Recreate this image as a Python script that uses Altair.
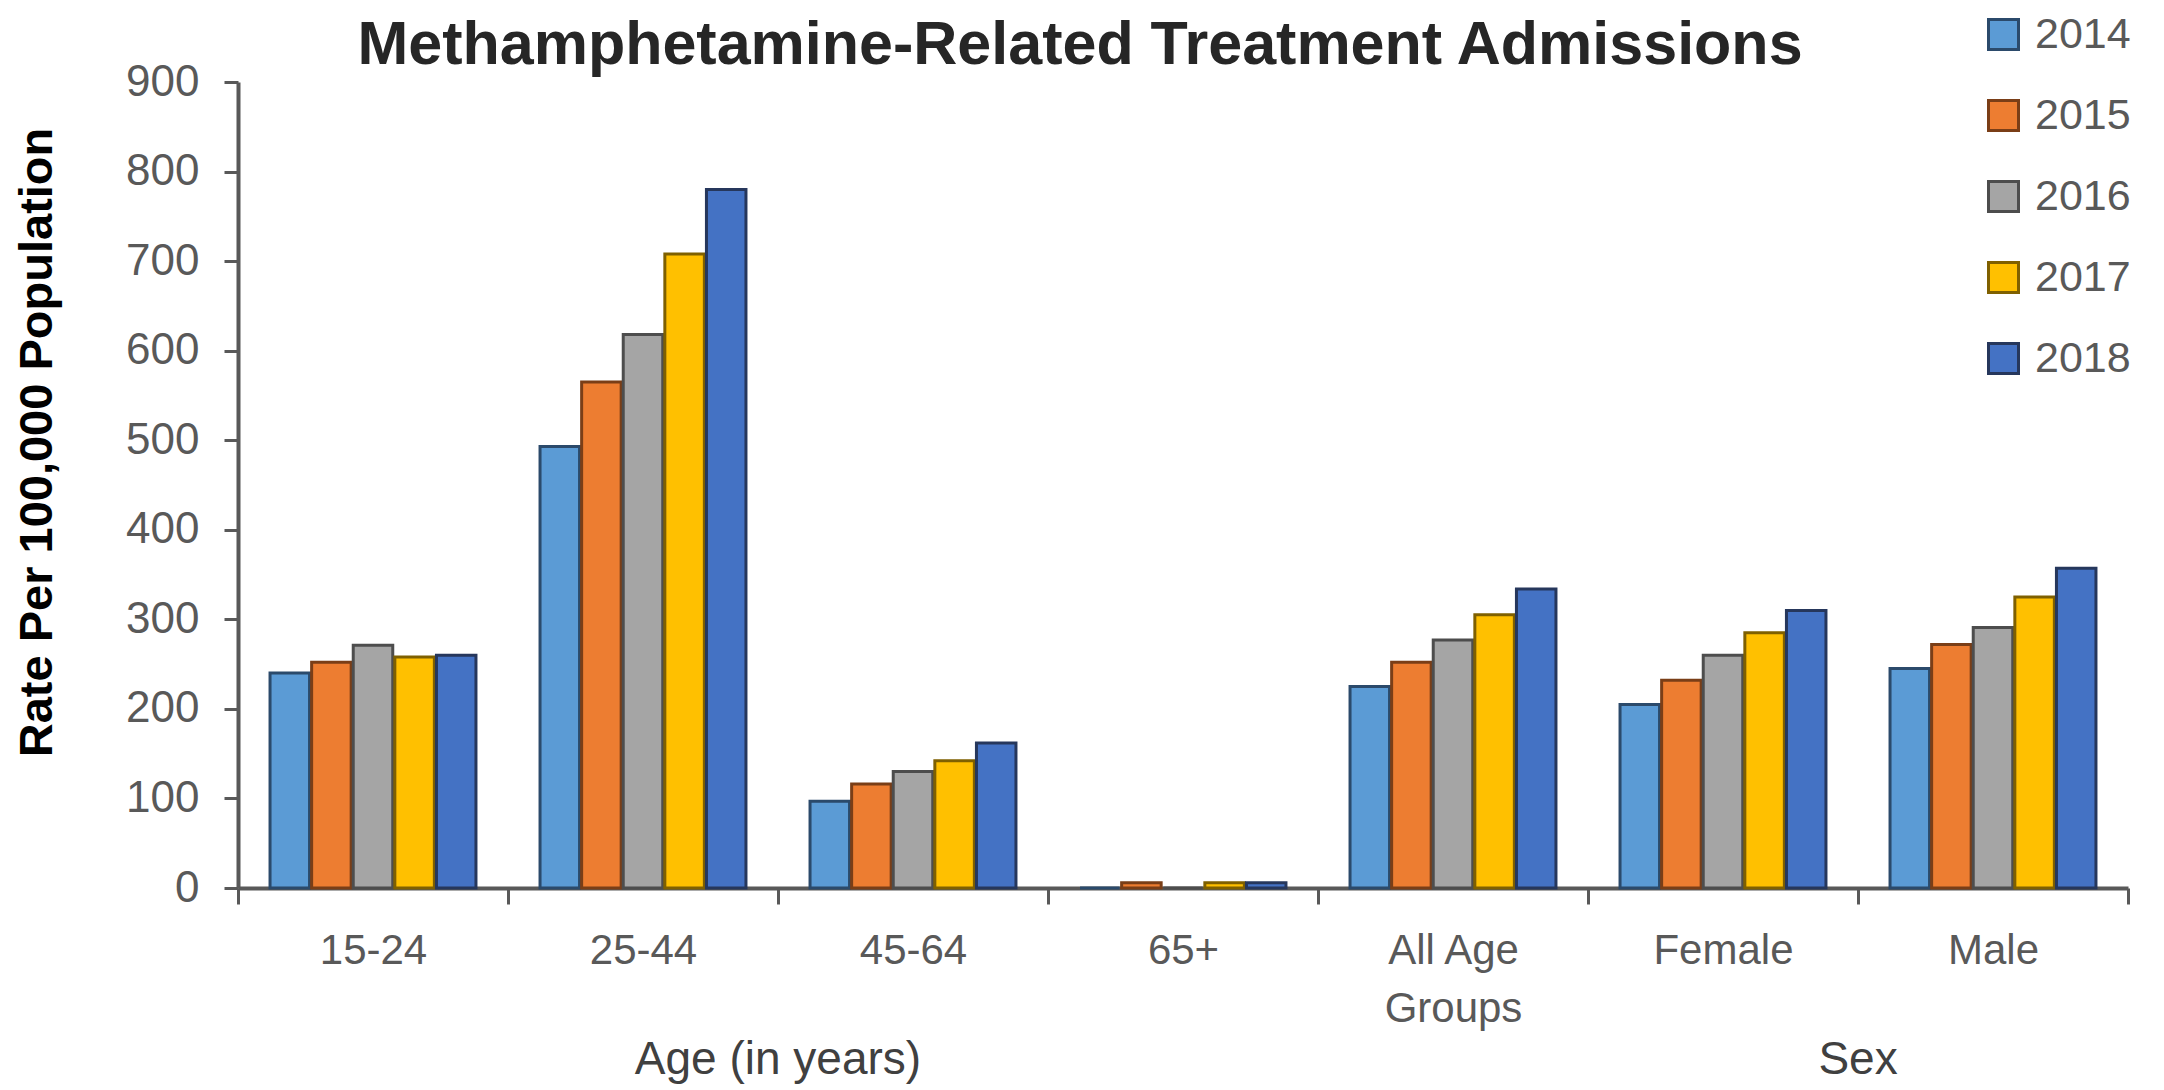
import altair as alt
import pandas as pd

chart_title = ["Methamphetamine-Related Treatment Admissions"]
categories = ["15-24", "25-44", "45-64", "65+", "All Age Groups", "Female", "Male"]
years = ["2014", "2015", "2016", "2017", "2018"]
rate_2014 = [240, 493, 97, 0, 225, 205, 245]
rate_2015 = [252, 565, 116, 6, 252, 232, 272]
rate_2016 = [271, 618, 130, 0, 277, 260, 291]
rate_2017 = [258, 708, 142, 6, 305, 285, 325]
rate_2018 = [260, 780, 162, 6, 334, 310, 357]
fill_colors = ["#5B9BD5", "#ED7D31", "#A5A5A5", "#FFC000", "#4472C4"]
edge_colors = ["#2B4A6B", "#7A3E17", "#4D4D4D", "#7F6000", "#26375C"]
group_labels = ["Age (in years)", "Sex"]
group_anchor = ["45-64", "Male"]
y_ticks = [0, 100, 200, 300, 400, 500, 600, 700, 800, 900]

series = [rate_2014, rate_2015, rate_2016, rate_2017, rate_2018]
rows = []
for yr, vals in zip(years, series):
    for cat, v in zip(categories, vals):
        rows.append({"category": cat, "year": yr, "rate": v})
df = pd.DataFrame(rows)
gdf = pd.DataFrame({"category": group_anchor, "label": group_labels})
tdf = pd.DataFrame({"text": chart_title})

FONT = "Liberation Sans"

legend = alt.Legend(
    title=None, orient="none", legendX=1744, legendY=-69,
    labelFontSize=43, labelColor="#595959", labelFont=FONT,
    symbolType="square", symbolSize=900, symbolStrokeWidth=3,
    rowPadding=37, labelOffset=10, padding=0,
)

x_axis = alt.Axis(
    title=None, labelAngle=0, tickBand="extent", tickSize=16,
    labelPadding=26, labelFontSize=42, labelColor="#595959", labelFont=FONT,
    labelLineHeight=58, domainColor="#595959", domainWidth=4,
    tickColor="#595959", tickWidth=3,
    labelExpr="datum.label == 'All Age Groups' ? ['All Age', 'Groups'] : datum.label",
)
x_scale = alt.Scale(paddingInner=0, paddingOuter=0)

bars = alt.Chart(df).mark_bar(strokeWidth=3).encode(
    x=alt.X("category:N", sort=categories, scale=x_scale, axis=x_axis),
    xOffset=alt.XOffset("year:N", sort=years,
                        scale=alt.Scale(paddingInner=0.05, paddingOuter=0.77)),
    y=alt.Y(
        "rate:Q", scale=alt.Scale(domain=[0, 900]),
        axis=alt.Axis(
            values=y_ticks, title="Rate Per 100,000  Population", grid=False,
            tickSize=14, labelPadding=25, labelFontSize=44, labelColor="#595959",
            labelFont=FONT, titleFont=FONT, titleFontSize=47, titleFontWeight="bold",
            titleColor="#000000", titlePadding=64, titleY=360,
            domainColor="#595959", domainWidth=4, tickColor="#595959", tickWidth=3,
        ),
    ),
    fill=alt.Fill("year:N", scale=alt.Scale(domain=years, range=fill_colors), legend=legend),
    stroke=alt.Stroke("year:N", scale=alt.Scale(domain=years, range=edge_colors), legend=legend),
)

groups = alt.Chart(gdf).mark_text(
    fontSize=46, color="#404040", font=FONT, baseline="middle", align="center"
).encode(
    x=alt.X("category:N", sort=categories, bandPosition=0, scale=x_scale, axis=x_axis),
    y=alt.value(978),
    text="label:N",
)

title = alt.Chart(tdf).mark_text(
    fontSize=61, color="#262626", font=FONT, fontWeight="bold",
    baseline="alphabetic", align="center",
).encode(
    x=alt.value(842),
    y=alt.value(-18),
    text="text:N",
)

chart = alt.layer(bars, groups, title).properties(
    width=1890, height=806,
    autosize=alt.AutoSizeParams(type="none"),
    padding={"left": 230, "top": 74, "right": 26, "bottom": 200},
).configure_view(stroke=None)

chart.save("out.html", embed_options={"renderer": "svg", "actions": False})
